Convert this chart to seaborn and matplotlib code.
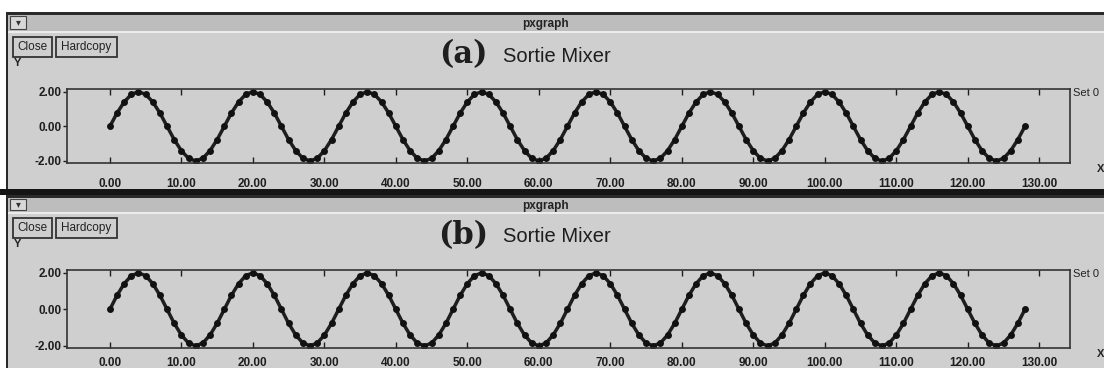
import matplotlib
matplotlib.use("Agg")
import matplotlib.pyplot as plt
from matplotlib.patches import Rectangle
import seaborn as sns

# Mixer output samples (one value per sample index), read for both windows
sortie_a = [
    0.00, 0.77, 1.41, 1.85, 2.00, 1.85, 1.41, 0.77, 0.00, -0.77, -1.41, -1.85, -2.00, -1.85, -1.41, -0.77,
    0.00, 0.77, 1.41, 1.85, 2.00, 1.85, 1.41, 0.77, 0.00, -0.77, -1.41, -1.85, -2.00, -1.85, -1.41, -0.77,
    0.00, 0.77, 1.41, 1.85, 2.00, 1.85, 1.41, 0.77, 0.00, -0.77, -1.41, -1.85, -2.00, -1.85, -1.41, -0.77,
    0.00, 0.77, 1.41, 1.85, 2.00, 1.85, 1.41, 0.77, 0.00, -0.77, -1.41, -1.85, -2.00, -1.85, -1.41, -0.77,
    0.00, 0.77, 1.41, 1.85, 2.00, 1.85, 1.41, 0.77, 0.00, -0.77, -1.41, -1.85, -2.00, -1.85, -1.41, -0.77,
    0.00, 0.77, 1.41, 1.85, 2.00, 1.85, 1.41, 0.77, 0.00, -0.77, -1.41, -1.85, -2.00, -1.85, -1.41, -0.77,
    0.00, 0.77, 1.41, 1.85, 2.00, 1.85, 1.41, 0.77, 0.00, -0.77, -1.41, -1.85, -2.00, -1.85, -1.41, -0.77,
    0.00, 0.77, 1.41, 1.85, 2.00, 1.85, 1.41, 0.77, 0.00, -0.77, -1.41, -1.85, -2.00, -1.85, -1.41, -0.77,
    0.00,
]
sortie_b = [
    0.00, 0.77, 1.41, 1.85, 2.00, 1.85, 1.41, 0.77, 0.00, -0.77, -1.41, -1.85, -2.00, -1.85, -1.41, -0.77,
    0.00, 0.77, 1.41, 1.85, 2.00, 1.85, 1.41, 0.77, 0.00, -0.77, -1.41, -1.85, -2.00, -1.85, -1.41, -0.77,
    0.00, 0.77, 1.41, 1.85, 2.00, 1.85, 1.41, 0.77, 0.00, -0.77, -1.41, -1.85, -2.00, -1.85, -1.41, -0.77,
    0.00, 0.77, 1.41, 1.85, 2.00, 1.85, 1.41, 0.77, 0.00, -0.77, -1.41, -1.85, -2.00, -1.85, -1.41, -0.77,
    0.00, 0.77, 1.41, 1.85, 2.00, 1.85, 1.41, 0.77, 0.00, -0.77, -1.41, -1.85, -2.00, -1.85, -1.41, -0.77,
    0.00, 0.77, 1.41, 1.85, 2.00, 1.85, 1.41, 0.77, 0.00, -0.77, -1.41, -1.85, -2.00, -1.85, -1.41, -0.77,
    0.00, 0.77, 1.41, 1.85, 2.00, 1.85, 1.41, 0.77, 0.00, -0.77, -1.41, -1.85, -2.00, -1.85, -1.41, -0.77,
    0.00, 0.77, 1.41, 1.85, 2.00, 1.85, 1.41, 0.77, 0.00, -0.77, -1.41, -1.85, -2.00, -1.85, -1.41, -0.77,
    0.00,
]
samples = list(range(len(sortie_a)))

x_ticks = [0, 10, 20, 30, 40, 50, 60, 70, 80, 90, 100, 110, 120, 130]
x_tick_labels = ["0.00", "10.00", "20.00", "30.00", "40.00", "50.00", "60.00",
                 "70.00", "80.00", "90.00", "100.00", "110.00", "120.00", "130.00"]
y_ticks = [-2, 0, 2]
y_tick_labels = ["-2.00", "0.00", "2.00"]
panel_tags = ["(a)", "(b)"]
panel_title = "Sortie Mixer"
window_name = "pxgraph"
legend_name = "Set 0"

sns.set_theme(style="white")
plt.rcParams["font.family"] = ["Liberation Sans", "DejaVu Sans"]

W, H = 1104, 368
BG = "#cfcfcf"
INK = "#1e1e1e"

fig = plt.figure(figsize=(W / 100, H / 100), dpi=100)
fig.patch.set_facecolor("white")


def fx(px):
    return px / W


def fy(py):
    return 1 - py / H


def rect(x0, y0, x1, y1, z=-3, **kw):
    fig.patches.append(Rectangle((fx(x0), fy(y1)), fx(x1) - fx(x0), fy(y0) - fy(y1),
                                 transform=fig.transFigure, zorder=z, **kw))


def text(px, py, s, **kw):
    fig.text(fx(px), fy(py), s, **kw)


# window layouts: window top/bottom, title-bar bottom, axes top/bottom, tick label pad
windows = [
    dict(top=12, bottom=189, bar=31, ax_top=89, ax_bot=163, pad=11, tag=panel_tags[0], data=sortie_a),
    dict(top=195, bottom=368, bar=212, ax_top=270, ax_bot=348, pad=6.5, tag=panel_tags[1], data=sortie_b),
]

# dark separator between the two windows
rect(0, 189, W, 195, facecolor="#151515", edgecolor="none")

for w in windows:
    t = w["top"]
    rect(6, t, W + 2, w["bottom"], z=-5, facecolor=BG, edgecolor="none")
    # outer frame
    rect(6, t, W + 2, t + 2.5, facecolor="#2a2a2a", edgecolor="none")
    rect(6, t, 8, w["bottom"], facecolor="#2a2a2a", edgecolor="none")
    # title bar
    rect(8, t + 2.5, W + 2, w["bar"], z=-4, facecolor="#bdbdbd", edgecolor="none")
    rect(8, w["bar"], W + 2, w["bar"] + 2, facecolor="#ececec", edgecolor="none")
    rect(10, t + 4, 26, w["bar"] - 2, z=-2, facecolor="#d8d8d8", edgecolor="#444444", lw=0.8)
    text(18, (t + w["bar"]) / 2 + 1, "▾", ha="center", va="center", fontsize=7,
         family="DejaVu Sans", color="#333333")
    text(545, (t + w["bar"]) / 2 + 2, window_name, ha="center", va="center",
         fontsize=8.5, fontweight="bold", color="#222222")

    # buttons
    by0, by1 = w["bar"] + 6, w["bar"] + 26
    rect(13, by0, 52, by1, z=-2, facecolor="none", edgecolor="#333333", lw=1.3)
    rect(56, by0, 117, by1, z=-2, facecolor="none", edgecolor="#333333", lw=1.3)
    text(32.5, (by0 + by1) / 2, "Close", ha="center", va="center", fontsize=8.5, color="#222222")
    text(86.5, (by0 + by1) / 2, "Hardcopy", ha="center", va="center", fontsize=8.5, color="#222222")
    text(14, by1 + 6, "Y", ha="left", va="center", fontsize=8, fontweight="bold", color="#222222")

    # panel title
    ty = w["bar"] + 24
    text(488, ty, w["tag"], ha="right", va="center", fontsize=22, fontweight="bold",
         family="DejaVu Serif", color=INK)
    text(503, ty + 1, panel_title, ha="left", va="center", fontsize=14.5, color=INK)

    # plot area
    ax = fig.add_axes([fx(67), fy(w["ax_bot"]), fx(1070) - fx(67), fy(w["ax_top"]) - fy(w["ax_bot"])])
    ax.set_zorder(5)
    ax.set_facecolor("none")
    sns.lineplot(x=samples, y=w["data"], ax=ax, color=INK, linewidth=2.5,
                 marker="o", markersize=5, markeredgewidth=0, markerfacecolor="#111111")
    ax.set_xlim(-6.0, 134.3)
    ax.set_ylim(-2.12, 2.16)
    ax.set_xticks(x_ticks)
    ax.set_xticklabels(x_tick_labels)
    ax.set_yticks(y_ticks)
    ax.set_yticklabels(y_tick_labels)
    ax.tick_params(axis="x", direction="in", top=True, bottom=True, length=4, width=1,
                   color=INK, pad=w["pad"], labelsize=8.5, labelcolor=INK)
    ax.tick_params(axis="y", direction="out", left=True, length=3, width=1,
                   color=INK, pad=1, labelsize=8.5, labelcolor=INK)
    for lab in ax.get_xticklabels() + ax.get_yticklabels():
        lab.set_fontweight("bold")
    for sp in ax.spines.values():
        sp.set_visible(True)
        sp.set_color("#333333")
        sp.set_linewidth(1.2)
    ax.set_xlabel("")
    ax.set_ylabel("")
    ax.grid(False)

    text(1073, w["ax_top"] + 4, legend_name, ha="left", va="center", fontsize=8, color="#222222")
    text(1097, w["ax_bot"] + 6, "X", ha="left", va="center", fontsize=8, fontweight="bold",
         color="#222222")

fig.savefig("out.png", dpi=100, facecolor=fig.get_facecolor())
